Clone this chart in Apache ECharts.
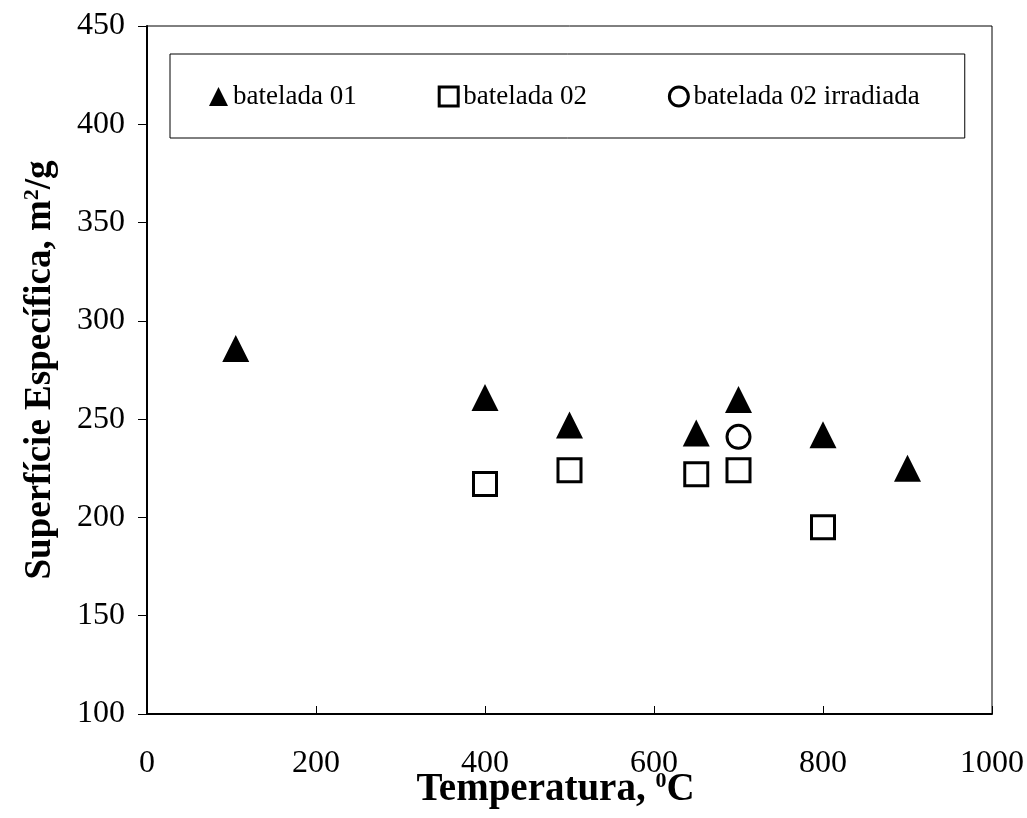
<!DOCTYPE html>
<html>
<head>
<meta charset="utf-8">
<script src="https://cdn.jsdelivr.net/npm/echarts@6/dist/echarts.min.js"></script>
<style>
  html, body { margin: 0; padding: 0; background: #fff; }
  #main { width: 1027px; height: 818px; }
</style>
</head>
<body>
<div id="main"></div>
<script>
// data
var seriesNames = ['batelada 01', 'batelada 02', 'batelada 02 irradiada'];
var batelada01 = [[105, 286], [400, 261], [500, 247], [650, 243], [700, 260], [800, 242], [900, 225]];
var batelada02 = [[400, 217], [500, 224], [650, 222], [700, 224], [800, 195]];
var batelada02Irradiada = [[700, 241]];
var xTicks = [0, 200, 400, 600, 800, 1000];
var yTicks = [100, 150, 200, 250, 300, 350, 400, 450];

var serif = '"Liberation Serif", "Times New Roman", serif';

var chart = echarts.init(document.getElementById('main'), null, { renderer: 'canvas' });

// legend icons: hollow ones get the same thick outline as the marks
var legendItems = [
    { name: seriesNames[0] },
    { name: seriesNames[1], itemStyle: { color: '#fff', borderColor: '#000', borderWidth: 3 } },
    { name: seriesNames[2], itemStyle: { color: '#fff', borderColor: '#000', borderWidth: 3 } }
];

var option = {
    backgroundColor: '#fff',
    animation: false,
    grid: {
        left: 147,
        right: 35,
        top: 26,
        bottom: 104,
        outerBoundsMode: 'none',
        containLabel: false,
        show: true,
        borderColor: '#000',
        borderWidth: 1
    },
    legend: {
        left: 170,
        top: 54,
        padding: [29, 45, 28, 39],
        itemGap: 81,
        itemWidth: 19,
        itemHeight: 19,
        borderColor: '#000',
        borderWidth: 1,
        data: legendItems,
        textStyle: {
            fontFamily: serif,
            fontSize: 27,
            color: '#000'
        }
    },
    xAxis: {
        type: 'value',
        min: xTicks[0],
        max: xTicks[xTicks.length - 1],
        interval: 200,
        name: 'Temperatura, {sup|0}C',
        nameLocation: 'middle',
        nameGap: 56,
        nameMoveOverlap: false,
        nameTextStyle: {
            fontFamily: serif,
            fontSize: 39,
            fontWeight: 'bold',
            color: '#000',
            padding: [0, 28, 0, 0],
            rich: {
                sup: {
                    fontFamily: serif,
                    fontSize: 22,
                    fontWeight: 'bold',
                    color: '#000',
                    verticalAlign: 'top',
                    padding: [0, 0, 16, 0]
                }
            }
        },
        axisLine: { lineStyle: { color: '#000', width: 2 } },
        axisTick: { inside: true, length: 8, lineStyle: { color: '#000', width: 1 } },
        axisLabel: {
            margin: 34,
            fontFamily: serif,
            fontSize: 32,
            color: '#000',
            formatter: function (v) { return String(v); }
        },
        splitLine: { show: false }
    },
    yAxis: {
        type: 'value',
        min: yTicks[0],
        max: yTicks[yTicks.length - 1],
        interval: 50,
        name: 'Superfície Específica, m{sup|2}/g',
        nameLocation: 'middle',
        nameGap: 88,
        nameMoveOverlap: false,
        nameTextStyle: {
            fontFamily: serif,
            fontSize: 37,
            fontWeight: 'bold',
            color: '#000',
            rich: {
                sup: {
                    fontFamily: serif,
                    fontSize: 22,
                    fontWeight: 'bold',
                    color: '#000',
                    verticalAlign: 'top',
                    padding: [0, 0, 16, 0]
                }
            }
        },
        axisLine: { lineStyle: { color: '#000', width: 2 } },
        axisTick: { inside: false, length: 9, lineStyle: { color: '#000', width: 1 } },
        axisLabel: {
            margin: 22,
            fontFamily: serif,
            fontSize: 32,
            color: '#000'
        },
        splitLine: { show: false }
    },
    series: [
        {
            name: seriesNames[0],
            type: 'scatter',
            symbol: 'triangle',
            symbolSize: [27, 27],
            itemStyle: { color: '#000', opacity: 1 },
            data: batelada01
        },
        {
            name: seriesNames[1],
            type: 'scatter',
            symbol: 'rect',
            symbolSize: 23,
            itemStyle: { color: '#fff', borderColor: '#000', borderWidth: 3, opacity: 1 },
            data: batelada02
        },
        {
            name: seriesNames[2],
            type: 'scatter',
            symbol: 'circle',
            symbolSize: 23,
            itemStyle: { color: '#fff', borderColor: '#000', borderWidth: 3, opacity: 1 },
            data: batelada02Irradiada
        }
    ]
};

chart.setOption(option);
</script>
</body>
</html>
